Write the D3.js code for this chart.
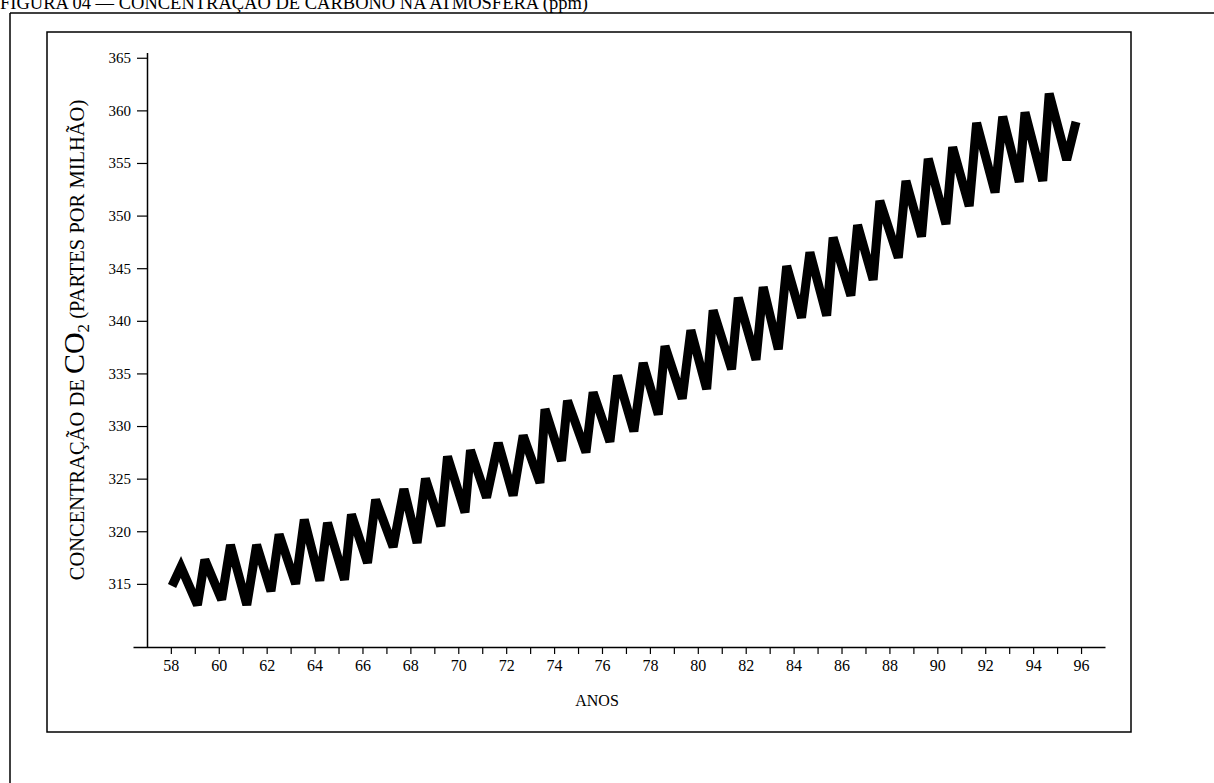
<!DOCTYPE html>
<html><head><meta charset="utf-8">
<script src="https://cdn.jsdelivr.net/npm/d3@7"></script>
<style>body{margin:0;background:#fff}svg{display:block}</style>
</head><body>
<svg id="c" width="1214" height="783"></svg>
<script>
// Data (decimal year "58.42" = 1958.42, CO2 in ppm)
const years = [58.05,58.42,59.11,59.42,60.12,60.49,61.17,61.58,62.18,62.52,63.21,63.57,64.22,64.54,65.25,65.54,66.21,66.55,67.28,67.73,68.28,68.63,69.27,69.55,70.28,70.51,71.18,71.67,72.29,72.71,73.41,73.62,74.31,74.56,75.33,75.63,76.33,76.65,77.33,77.72,78.35,78.63,79.35,79.71,80.37,80.64,81.41,81.69,82.43,82.73,83.36,83.71,84.33,84.68,85.38,85.65,86.39,86.67,87.32,87.60,88.37,88.69,89.34,89.62,90.36,90.64,91.33,91.64,92.41,92.73,93.42,93.66,94.40,94.67,95.40,95.79];
const co2 = [314.8,316.6,313.0,317.3,313.5,318.7,313.0,318.7,314.3,319.7,315.0,321.1,315.3,320.8,315.4,321.6,317.0,323.0,318.5,324.0,318.9,325.0,320.5,327.1,321.8,327.7,323.2,328.4,323.4,329.1,324.6,331.6,326.7,332.4,327.5,333.2,328.5,334.8,329.5,336.0,331.1,337.6,332.6,339.1,333.5,341.0,335.4,342.2,336.3,343.2,337.3,345.2,340.3,346.5,340.5,347.9,342.4,349.1,343.9,351.4,346.0,353.3,348.0,355.4,349.2,356.5,350.9,358.8,352.2,359.4,353.2,359.8,353.3,361.6,355.3,358.9];
const xTicks = d3.range(58, 97, 1);
const xLabels = d3.range(58, 97, 2);
const yTicks = [315,320,325,330,335,340,345,350,355,360,365];

const titleText = "FIGURA 04 — CONCENTRAÇÃO DE CARBONO NA ATMOSFERA (ppm)";
const xTitle = "ANOS";

const svg = d3.select("#c");
const serif = "'Liberation Serif','Times New Roman',serif";

// top caption (cut by page top, as in the scan)
svg.append("text").attr("x", 0).attr("y", 9).attr("font-family", serif)
  .attr("font-size", 18.5).attr("fill", "#000").text(titleText);

// outer frame lines
svg.append("line").attr("x1", 10).attr("x2", 1214).attr("y1", 13).attr("y2", 13).attr("stroke", "#000").attr("stroke-width", 1.5);
svg.append("line").attr("x1", 10).attr("x2", 10).attr("y1", 13).attr("y2", 783).attr("stroke", "#000").attr("stroke-width", 1.5);
// inner box
svg.append("rect").attr("x", 47).attr("y", 32).attr("width", 1084).attr("height", 700)
  .attr("fill", "none").attr("stroke", "#000").attr("stroke-width", 1.5);

const x = d3.scaleLinear().domain([56.42, 97]).range([133, 1105]);
const y = d3.scaleLinear().domain([309, 365.5]).range([647, 52.5]);

// x axis
const gx = svg.append("g").attr("transform", "translate(0,647)")
  .call(d3.axisBottom(x).tickValues(xTicks).tickSize(7).tickSizeOuter(0).tickPadding(6)
    .tickFormat(d => xLabels.includes(d) ? String(d) : ""));
gx.select(".domain").attr("stroke", "#000").attr("stroke-width", 1.5);
gx.selectAll(".tick line").attr("stroke", "#000").attr("stroke-width", 1.2);
gx.selectAll(".tick text").attr("font-family", serif).attr("font-size", 16).attr("fill", "#000");

// y axis
const gy = svg.append("g").attr("transform", "translate(147,0)")
  .call(d3.axisLeft(y).tickValues(yTicks).tickSize(10).tickSizeOuter(0).tickPadding(6));
gy.select(".domain").attr("stroke", "#000").attr("stroke-width", 1.5);
gy.selectAll(".tick line").attr("stroke", "#000").attr("stroke-width", 1.2);
gy.selectAll(".tick text").attr("font-family", serif).attr("font-size", 15).attr("fill", "#000");

// x title
svg.append("text").attr("x", 597).attr("y", 706).attr("text-anchor", "middle")
  .attr("font-family", serif).attr("font-size", 16).attr("fill", "#000").text(xTitle);

// y title (rotated)
const yt = svg.append("text").attr("transform", "translate(84,340) rotate(-90)")
  .attr("text-anchor", "middle").attr("font-family", serif).attr("fill", "#000").attr("font-size", 20.5);
yt.append("tspan").text("CONCENTRAÇÃO DE ");
yt.append("tspan").attr("font-size", 30).text("CO");
yt.append("tspan").attr("font-size", 17).attr("dy", 5).text("2");
yt.append("tspan").attr("dy", -5).text(" (PARTES POR MILHÃO)");

// data line
const line = d3.line().x((d, i) => x(years[i])).y(d => y(d));
svg.append("path").datum(co2).attr("d", line).attr("fill", "none")
  .attr("stroke", "#000").attr("stroke-width", 9).attr("stroke-linejoin", "miter").attr("stroke-miterlimit", 3);
</script>
</body></html>
